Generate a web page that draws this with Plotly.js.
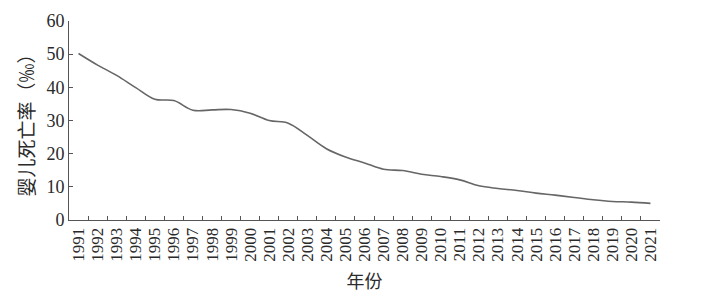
<!DOCTYPE html>
<html>
<head>
<meta charset="utf-8">
<script src="https://cdn.plot.ly/plotly-3.0.1.min.js"></script>
<style>html,body{margin:0;padding:0;background:#fff;}#chart{width:706px;height:301px;}</style>
</head>
<body>
<div id="chart"></div>
<script>
const years = ["1991","1992","1993","1994","1995","1996","1997","1998","1999","2000","2001","2002","2003","2004","2005","2006","2007","2008","2009","2010","2011","2012","2013","2014","2015","2016","2017","2018","2019","2020","2021"];
const infantMortality = [50.2,46.7,43.6,39.9,36.4,36.0,33.1,33.2,33.3,32.2,30.0,29.2,25.5,21.5,19.0,17.2,15.3,14.9,13.8,13.1,12.1,10.3,9.5,8.9,8.1,7.5,6.8,6.1,5.6,5.4,5.0];
const yTicks = [0,10,20,30,40,50,60];

const fontFam = 'Liberation Serif, DejaVu Serif, serif';
const cjkFam = 'Noto Sans CJK SC, sans-serif';

const trace = {
  x: years,
  y: infantMortality,
  type: 'scatter',
  mode: 'lines',
  line: {color: '#666666', width: 1.6, shape: 'spline', smoothing: 1},
  hoverinfo: 'skip'
};

const layout = {
  width: 706, height: 301,
  margin: {l: 69, r: 46, t: 21, b: 81, pad: 0},
  paper_bgcolor: '#ffffff', plot_bgcolor: '#ffffff',
  showlegend: false,
  font: {family: fontFam, color: '#2a2a2a', size: 17},
  xaxis: {
    type: 'category',
    range: [-0.5, years.length - 0.5],
    tickmode: 'array', tickvals: years, ticktext: years,
    showgrid: false, zeroline: false,
    showline: true, linecolor: '#555555', linewidth: 1,
    ticks: 'inside', ticklen: 4, tickcolor: '#555555', tickwidth: 1,
    tickson: 'boundaries',
    tickangle: -90,
    tickfont: {family: fontFam, size: 17, color: '#2a2a2a'},
    title: {text: '年份', font: {family: cjkFam, size: 18, color: '#2a2a2a'}, standoff: 14},
    fixedrange: true
  },
  yaxis: {
    range: [0, 60],
    tickvals: yTicks,
    showgrid: false, zeroline: false,
    showline: true, linecolor: '#555555', linewidth: 1,
    ticks: 'inside', ticklen: 4, tickcolor: '#555555', tickwidth: 1,
    tickfont: {family: fontFam, size: 18, color: '#2a2a2a'},
    title: {text: '婴儿死亡率（‰）', font: {family: cjkFam, size: 19, color: '#2a2a2a'}, standoff: 6},
    fixedrange: true
  }
};

Plotly.newPlot('chart', [trace], layout, {displayModeBar: false, staticPlot: true});
</script>
</body>
</html>
